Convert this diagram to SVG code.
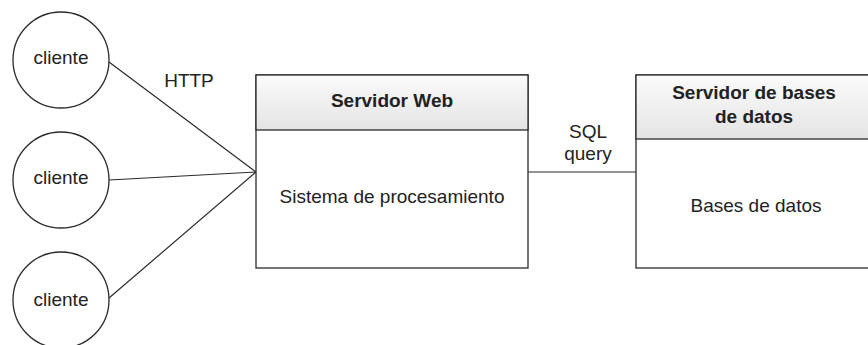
<svg xmlns="http://www.w3.org/2000/svg" width="868" height="345" viewBox="0 0 868 345">
<style>
  .shape { fill: #ffffff; stroke: #2b2b2b; stroke-width: 1.3; }
  .hdr { fill: url(#hdrGrad); stroke: #2b2b2b; stroke-width: 1.3; }
  .edge { fill: none; stroke: #2b2b2b; stroke-width: 1.2; }
  .t { font-family: "Liberation Sans", Arial, Helvetica, sans-serif; font-size: 19px; fill: #222222; text-anchor: middle; }
  .b { font-weight: bold; }
</style>
<defs>
  <linearGradient id="hdrGrad" x1="0" y1="0" x2="0" y2="1">
    <stop offset="0" stop-color="#fbfbfb"/>
    <stop offset="1" stop-color="#e4e4e4"/>
  </linearGradient>
</defs>
<rect x="0" y="0" width="868" height="345" fill="#ffffff"/>
<g id="connectors">
  <line class="edge" x1="109" y1="62" x2="256" y2="172"/>
  <line class="edge" x1="109" y1="180" x2="256" y2="172"/>
  <line class="edge" x1="109" y1="298" x2="256" y2="172"/>
  <line class="edge" x1="528" y1="172" x2="636" y2="172"/>
  <text class="t" x="189" y="87">HTTP</text>
  <text class="t" x="588" y="138">SQL</text>
  <text class="t" x="588" y="160">query</text>
</g>
<g id="cliente1">
  <circle class="shape" cx="61" cy="60" r="48"/>
  <text class="t" x="61" y="64">cliente</text>
</g>
<g id="cliente2">
  <circle class="shape" cx="61" cy="180" r="48"/>
  <text class="t" x="61" y="184">cliente</text>
</g>
<g id="cliente3">
  <circle class="shape" cx="61" cy="300" r="48"/>
  <text class="t" x="61" y="306">cliente</text>
</g>
<g id="servidor-web">
  <rect class="shape" x="256" y="75" width="272" height="193"/>
  <rect class="hdr" x="256" y="75" width="272" height="55"/>
  <text class="t b" x="392" y="107">Servidor Web</text>
  <text class="t" x="392" y="203">Sistema de procesamiento</text>
</g>
<g id="servidor-bd">
  <rect class="shape" x="636" y="75" width="236" height="193"/>
  <rect class="hdr" x="636" y="75" width="236" height="64"/>
  <text class="t b" x="754" y="99">Servidor de bases</text>
  <text class="t b" x="754" y="123">de datos</text>
  <text class="t" x="756" y="212">Bases de datos</text>
</g>
</svg>
